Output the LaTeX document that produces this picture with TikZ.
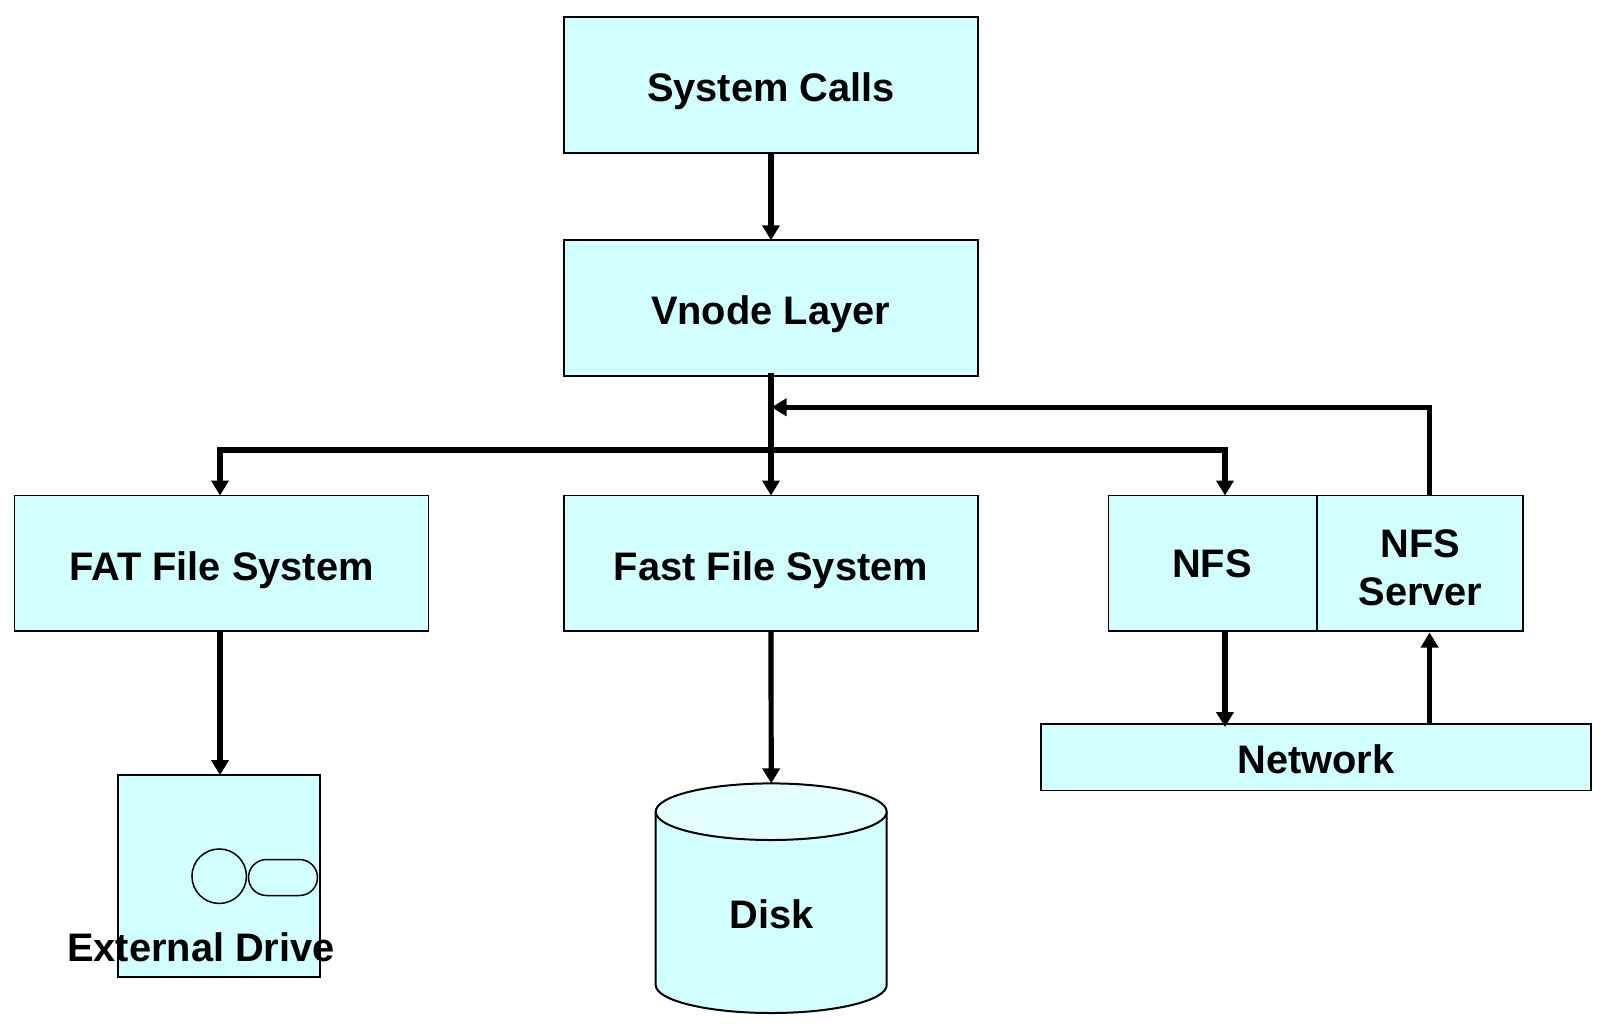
\documentclass[tikz,border=0pt]{standalone}
\usepackage{fontspec}
\setmainfont{Liberation Sans}
\usetikzlibrary{arrows.meta,shapes.misc,shapes.geometric}
\definecolor{boxfill}{HTML}{D2FFFF}
\definecolor{disktop}{HTML}{E3FFFF}
\tikzset{
  box/.style={draw=black,fill=boxfill,line width=1.8pt,rectangle,inner sep=0pt,outer sep=0pt},
  label/.style={font=\fontsize{39.8}{47}\selectfont\bfseries,anchor=base,inner sep=0pt,outer sep=0pt,text=black},
  conn/.style={line width=5.2pt,-{Triangle[length=15pt,width=17pt]},shorten >=0pt,line join=miter},
  plainline/.style={line width=2pt,draw=black},
}
\begin{document}
\begin{tikzpicture}[x=1pt,y=-1pt]
\useasboundingbox[fill=white] (0,0) rectangle (1606,1026);
% boxes
\node[box,minimum width=414pt,minimum height=135.5pt] (sys) at (771,85) {};
\node[box,minimum width=414pt,minimum height=135.5pt] (vn) at (771,308) {};
\node[box,minimum width=414pt,minimum height=135.5pt] (fat) at (221.5,563.3) {};
\node[box,minimum width=414pt,minimum height=135.5pt] (ffs) at (771,563.3) {};
\node[box,minimum width=208.5pt,minimum height=135.5pt] (nfs) at (1212.8,563.3) {};
\node[box,minimum width=206pt,minimum height=135.5pt] (srv) at (1420,563.3) {};
\node[box,minimum width=550.5pt,minimum height=66.4pt] (net) at (1316,757.3) {};
\node[box,minimum width=202.6pt,minimum height=202.3pt] (ext) at (219,876.2) {};
% drive details
\node[draw=black,line width=1.5pt,circle,inner sep=0pt,minimum size=54.5pt] (dc) at (219.2,876.2) {};
\node[draw=black,line width=1.5pt,rounded rectangle,inner sep=0pt,minimum width=69pt,minimum height=36pt] (dp) at (283,877.5) {};
% disk
\coordinate (diskn) at (771.2,783.4);
\fill[boxfill] (655.7,811.7) -- (655.7,985) arc[start angle=180,end angle=360,x radius=115.5pt,y radius=28pt] -- (886.7,811.7) -- cycle;
\draw[plainline] (655.7,811.7) -- (655.7,985) arc[start angle=180,end angle=360,x radius=115.5pt,y radius=28pt] -- (886.7,811.7);
\node[draw=black,fill=disktop,line width=2pt,ellipse,inner sep=0pt,minimum width=231pt,minimum height=56.6pt] (disk) at (771.2,811.7) {};
% connectors
\coordinate (fatin) at (220,495.5);
\coordinate (nfsin) at (1225,495.5);
\coordinate (nfsout) at (1225,631);
\coordinate (netin) at (1225,727);
\coordinate (srvup) at (1429.6,495);
\coordinate (netout) at (1429.6,724);
\coordinate (srvin) at (1429.6,632.5);
\coordinate (fb) at (771.5,407.3);
\coordinate (vnout) at (771,373);
\draw[conn] (sys.south) -- (vn.north);
\draw[conn] (vnout) -- (ffs.north);
\draw[conn] (fatin |- 0,450) -- (fatin);
\draw[conn] (nfsin |- 0,450) -- (nfsin);
\draw[line width=5.2pt] (217.4,450) -- (1227.6,450);
\draw[conn] (srvup) -- (srvup |- fb) -- (fb);
\draw[conn] (fat.south -| fatin) -- (ext.north -| fatin);
\draw[conn] (ffs.south) -- (diskn);
\draw[conn] (nfsout) -- (netin);
\draw[conn] (netout) -- (srvin);
% labels
\node[label] (lsys) at (771,101.5) {System Calls};
\node[label] (lvn) at (770.5,324.5) {Vnode Layer};
\node[label] (lfat) at (221.5,580.5) {FAT File System};
\node[label] (lffs) at (771,580.5) {Fast File System};
\node[label] (lnfs) at (1212,577) {NFS};
\node[label] (lsrv1) at (1420.5,557) {NFS};
\node[label] (lsrv2) at (1420.5,605) {Server};
\node[label] (lnet) at (1316,773.5) {Network};
\node[label] (lext) at (201,961) {External Drive};
\node[label] (ldisk) at (771.5,928) {Disk};
\end{tikzpicture}
\end{document}
